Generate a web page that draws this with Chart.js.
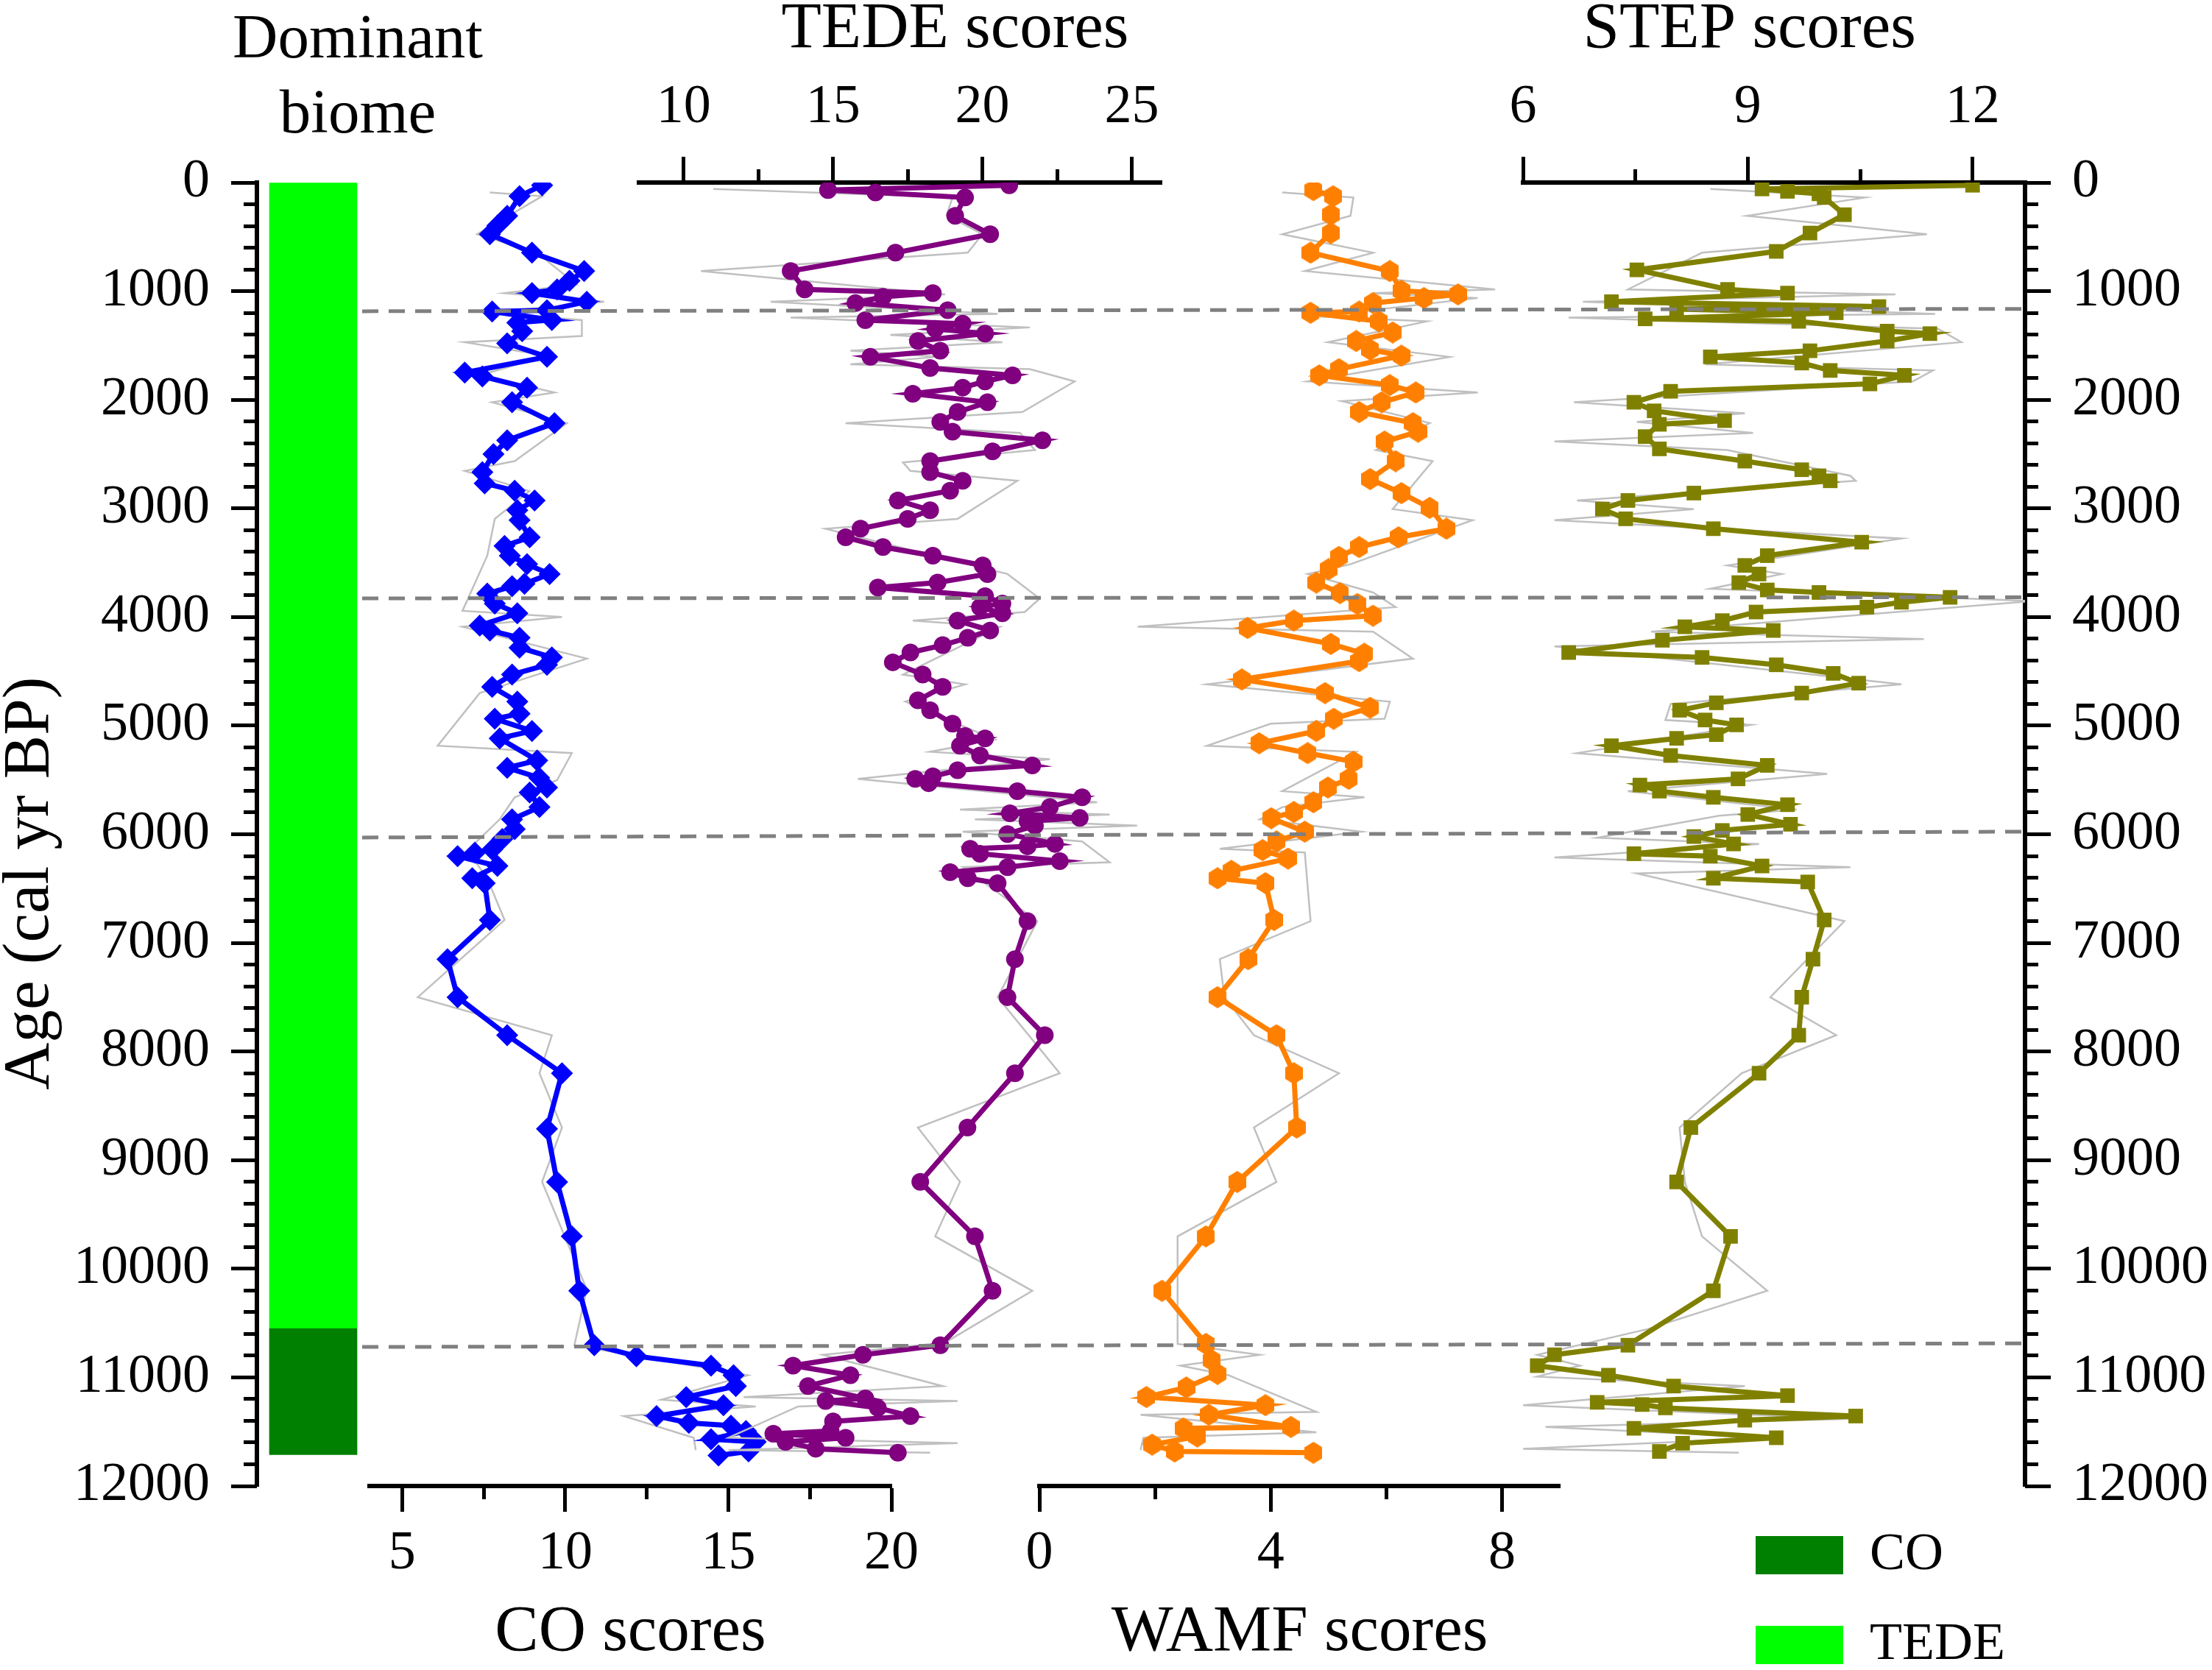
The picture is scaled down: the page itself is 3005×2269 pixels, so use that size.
<!DOCTYPE html>
<html>
<head>
<meta charset="utf-8">
<title>Biome scores</title>
<script src="https://cdn.jsdelivr.net/npm/chart.js@4.4.1/dist/chart.umd.min.js"></script>
<style>
  html, body { margin: 0; padding: 0; background: #fff; overflow: hidden; }
  #wrap { position: relative; width: 3005px; height: 2269px; }
  #wrap canvas { position: absolute; left: 0; top: 0; }
  #biomeTitle {
    position: absolute; left: 286px; top: -2px; width: 400px;
    font-family: 'Liberation Serif', 'Times New Roman', serif; font-size: 85px; line-height: 102px;
    text-align: center; color: #000;
  }
</style>
</head>
<body>
<div id="wrap">
  <canvas id="biome" width="3005" height="2269"></canvas>
  <canvas id="co" width="3005" height="2269"></canvas>
  <canvas id="tede" width="3005" height="2269"></canvas>
  <canvas id="wamf" width="3005" height="2269"></canvas>
  <canvas id="step" width="3005" height="2269"></canvas>
  <canvas id="zones" width="3005" height="2269"></canvas>
  <canvas id="legend" width="900" height="300" style="left:2335px; top:2027px;"></canvas>
  <div id="biomeTitle">Dominant<br>biome</div>
</div>
<script>
// ---- data ----
var ageRange = [0, 12000];
var ageTicks = [0, 1000, 2000, 3000, 4000, 5000, 6000, 7000, 8000, 9000, 10000, 11000, 12000];

var biomeNames = ['CO', 'TEDE'];
var biomeColors = ['#008000', '#00ff00'];
var biomeSpans = [[10550, 11712], [0, 10550]];

// zone boundaries (age at left end / right end)
var zoneAgeLeft = [1185, 3828, 6030, 10720];
var zoneAgeRight = [1163, 3818, 5976, 10687];

var coRange = [4, 20], coTicks = [5, 10, 15, 20], coMinor = [7.5, 12.5, 17.5];
var tedeRange = [8.5, 26], tedeTicks = [10, 15, 20, 25], tedeMinor = [12.5, 17.5, 22.5];
var wamfRange = [0, 9], wamfTicks = [0, 4, 8], wamfMinor = [2, 6];
var stepRange = [6, 12.7], stepTicks = [6, 9, 12], stepMinor = [7.5, 10.5];

var coAge = [25, 126, 307, 397, 476, 646, 815, 905, 984, 1018, 1097, 1176, 1188, 1265, 1290, 1368, 1481, 1605, 1750, 1785,
  1888, 2023, 2215, 2373, 2500, 2667, 2769, 2837, 2927, 3017, 3108, 3266, 3345, 3435, 3514, 3604, 3695, 3717, 3785, 3875,
  3966, 4079, 4124, 4191, 4282, 4372, 4440, 4530, 4643, 4779, 4891, 4937, 5049, 5117, 5320, 5388, 5480, 5570, 5615, 5750,
  5863, 5953, 6044, 6140, 6170, 6202, 6292, 6405, 6450, 6789, 7150, 7500, 7850, 8200, 8712, 9201, 9702, 10203, 10704, 10805,
  10892, 10980, 11080, 11181, 11256, 11356, 11419, 11444, 11494, 11569, 11594, 11682, 11719];
var coScore = [9.29, 8.6, 8.22, 7.92, 7.69, 8.98, 10.58, 10.13, 9.75, 8.98, 10.66, 9.44, 7.76, 9.59, 8.53, 8.68, 8.22, 9.44, 6.92, 7.46,
  8.83, 8.37, 9.67, 8.22, 7.8, 7.46, 7.53, 8.45, 9.06, 8.53, 8.6, 8.91, 8.14, 8.3, 8.83, 9.52, 8.75, 8.37, 7.61, 7.84,
  8.53, 7.38, 7.69, 8.6, 8.6, 9.59, 9.44, 8.37, 7.76, 8.53, 8.6, 7.84, 8.98, 7.99, 9.14, 8.22, 9.2, 9.44, 8.91, 9.21,
  8.37, 8.45, 8.07, 7.76, 7.23, 6.7, 7.92, 7.15, 7.53, 7.69, 6.39, 6.7, 8.22, 9.9, 9.44, 9.75, 10.2, 10.43, 10.89, 12.18,
  14.47, 15.16, 15.23, 13.71, 14.85, 12.8, 13.79, 15.08, 15.54, 14.47, 15.84, 15.62, 14.7];
var coRawAge = [92, 126, 476, 646, 939, 1018, 1097, 1199, 1267, 1413, 1470, 1594, 1775, 1933, 2023, 2215, 2565, 2655, 2840, 3096,
  3435, 3943, 3999, 4090, 4383, 4700, 5185, 5253, 5502, 5660, 5863, 6150, 6400, 6789, 7500, 7850, 8200, 8700, 9200, 10190,
  10704, 10980, 11206, 11268, 11356, 11556, 11670];
var coRaw = [7.69, 9.29, 7.3, 9.13, 10.35, 8.14, 11.19, 7.69, 10.51, 10.51, 6.92, 9.44, 7.38, 9.67, 7.76, 10.05, 8.45, 6.92, 8.9, 7.84,
  7.61, 6.85, 9.9, 6.85, 10.66, 7.38, 6.09, 10.2, 9.75, 8.45, 7.99, 7.0, 7.6, 8.14, 5.48, 9.59, 9.21, 9.9, 9.29, 10.66,
  10.28, 15.6, 12.95, 15.84, 11.8, 13.94, 14.0];

var tedeAge = [25, 70, 92, 138, 307, 476, 646, 815, 984, 1018, 1052, 1109, 1176, 1267, 1300, 1346, 1391, 1459, 1549, 1605,
  1707, 1775, 1831, 1888, 1944, 2023, 2113, 2204, 2294, 2373, 2475, 2565, 2667, 2746, 2837, 2927, 3017, 3096, 3187, 3266,
  3356, 3435, 3525, 3604, 3683, 3729, 3808, 3875, 3909, 3966, 4033, 4124, 4191, 4259, 4327, 4417, 4530, 4643, 4767, 4858,
  4982, 5095, 5117, 5185, 5275, 5366, 5411, 5467, 5490, 5530, 5603, 5660, 5750, 5807, 5850, 5880, 5920, 5998, 6089, 6111,
  6134, 6179, 6247, 6303, 6349, 6405, 6450, 6800, 7150, 7500, 7850, 8200, 8700, 9200, 9702, 10203, 10704, 10792, 10892, 10980,
  11080, 11193, 11218, 11281, 11356, 11406, 11494, 11519, 11556, 11594, 11657, 11694];
var tedeScore = [20.9, 14.83, 16.42, 19.42, 19.09, 20.26, 17.09, 13.58, 14.05, 18.34, 16.67, 15.75, 18.84, 16.08, 19.34, 18.42, 20.09, 17.84, 18.59, 16.25,
  18.25, 21.01, 20.09, 19.34, 17.67, 20.17, 19.17, 18.59, 19.0, 22.01, 20.34, 18.25, 18.25, 19.34, 18.92, 17.17, 18.25, 17.5, 15.92, 15.42,
  16.67, 18.34, 20.01, 20.17, 18.5, 16.5, 20.09, 20.67, 19.92, 20.67, 19.17, 20.26, 19.51, 18.67, 17.59, 17.0, 18.0, 18.67, 17.84, 18.25,
  19.0, 19.42, 20.09, 19.25, 19.92, 21.67, 19.17, 18.34, 17.75, 18.2, 21.17, 23.34, 22.26, 20.92, 23.26, 21.51, 21.76, 20.84, 22.43, 21.51,
  19.59, 19.92, 22.59, 20.84, 18.92, 19.51, 20.51, 21.51, 21.09, 20.84, 22.09, 21.09, 19.5, 17.92, 19.75, 20.34, 18.59, 16.0, 13.66, 15.58,
  14.16, 16.08, 14.75, 16.5, 17.59, 15.0, 14.92, 13.0, 15.42, 13.41, 14.42, 17.17];
var tedeRawAge = [59, 138, 300, 476, 646, 815, 1030, 1097, 1210, 1244, 1334, 1402, 1470, 1549, 1605, 1673, 1718, 1831, 2113, 2215,
  2305, 2463, 2576, 2655, 2746, 3096, 3187, 3604, 3830, 3954, 4033, 4090, 4530, 4620, 4779, 5128, 5241, 5309, 5490, 5705,
  5773, 5818, 5863, 5920, 5976, 6066, 6258, 6303, 6800, 7500, 8200, 8700, 9200, 9702, 10203, 10680, 10792, 11080, 11181, 11218,
  11268, 11556, 11606, 11669, 11694];
var tedeRaw = [10.99, 19.0, 18.8, 20.0, 19.51, 10.58, 18.75, 12.91, 20.51, 13.58, 21.59, 16.92, 20.67, 15.58, 18.5, 15.58, 21.59, 23.09, 21.34, 15.42,
  21.26, 21.76, 17.34, 17.59, 21.17, 19.17, 14.75, 20.84, 21.92, 21.42, 17.67, 20.59, 17.34, 19.42, 17.42, 20.42, 18.25, 22.26, 15.83, 23.84,
  19.25, 24.26, 19.75, 25.18, 19.34, 23.34, 24.26, 19.34, 21.84, 20.51, 22.59, 17.84, 19.25, 18.42, 21.67, 18.75, 14.66, 18.67, 12.0, 19.17,
  13.83, 11.5, 19.17, 11.5, 18.25];

var wamfAge = [70, 126, 296, 465, 646, 815, 996, 1030, 1063, 1109, 1188, 1199, 1278, 1380, 1459, 1538, 1594, 1718, 1775, 1865,
  1933, 2023, 2113, 2215, 2294, 2384, 2565, 2730, 2859, 2995, 3187, 3266, 3356, 3446, 3560, 3683, 3780, 3880, 3988, 4033,
  4101, 4248, 4338, 4406, 4575, 4700, 4835, 4937, 5049, 5162, 5253, 5332, 5490, 5570, 5705, 5795, 5852, 5976, 6066, 6145,
  6224, 6337, 6405, 6450, 6789, 7150, 7500, 7850, 8200, 8700, 9201, 9702, 10203, 10692, 10842, 10968, 11093, 11181, 11256, 11344,
  11456, 11469, 11544, 11619, 11682, 11694];
var wamfScore = [4.74, 5.08, 5.04, 5.04, 4.69, 6.06, 6.26, 7.24, 6.65, 5.77, 5.53, 4.69, 5.87, 6.11, 5.48, 5.72, 6.26, 5.18, 4.84, 6.06,
  6.51, 5.92, 5.53, 6.46, 6.55, 5.97, 6.16, 5.72, 6.26, 6.75, 7.04, 6.21, 5.53, 5.18, 5.0, 4.79, 5.2, 5.5, 5.77, 4.4,
  3.6, 5.04, 5.62, 5.53, 3.5, 4.94, 5.72, 5.09, 4.79, 3.8, 4.64, 5.43, 5.35, 4.99, 4.74, 4.4, 4.01, 4.59, 4.1, 3.86,
  4.3, 3.32, 3.08, 3.91, 4.06, 3.61, 3.08, 4.1, 4.4, 4.45, 3.42, 2.88, 2.12, 2.88, 2.98, 3.08, 2.54, 1.85, 3.91, 2.93,
  4.35, 2.49, 2.73, 1.95, 2.34, 4.74];
var wamfRawAge = [92, 138, 307, 476, 646, 815, 984, 1018, 1063, 1233, 1278, 1470, 1605, 1831, 1933, 2012, 2215, 2463, 2565, 3006,
  3108, 3514, 3604, 3774, 3909, 4090, 4135, 4383, 4620, 4779, 4937, 4982, 5185, 5241, 5603, 5660, 5750, 5863, 5976, 6134,
  6168, 6800, 7150, 7500, 7850, 8200, 8700, 9201, 9702, 10203, 10692, 10792, 10892, 10980, 11318, 11344, 11506, 11556, 11669];
var wamfRaw = [4.2, 5.43, 5.38, 4.2, 5.77, 4.59, 7.88, 5.77, 7.58, 4.79, 6.7, 4.99, 7.09, 4.64, 7.58, 5.23, 6.75, 5.82, 6.8, 6.11,
  7.49, 5.38, 4.64, 5.77, 6.16, 1.7, 5.77, 6.46, 2.9, 6.06, 5.97, 4.0, 2.9, 5.48, 4.2, 5.62, 4.2, 3.81, 5.57, 3.12,
  4.59, 4.69, 3.12, 3.2, 3.71, 5.18, 3.71, 4.1, 2.39, 2.39, 2.39, 3.81, 2.44, 3.27, 4.79, 1.75, 4.79, 1.8, 1.75];

var stepAge = [25, 59, 81, 104, 138, 296, 465, 634, 804, 984, 1018, 1097, 1142, 1165, 1199, 1255, 1278, 1368, 1391, 1459,
  1549, 1605, 1662, 1730, 1775, 1854, 1922, 2023, 2102, 2192, 2226, 2339, 2452, 2565, 2644, 2700, 2746, 2859, 2927, 3006,
  3096, 3187, 3311, 3435, 3525, 3604, 3683, 3751, 3774, 3819, 3864, 3909, 3954, 4033, 4090, 4124, 4214, 4327, 4372, 4440,
  4519, 4609, 4700, 4790, 4858, 4948, 4993, 5083, 5117, 5185, 5275, 5366, 5490, 5547, 5603, 5660, 5728, 5818, 5908, 5965,
  6021, 6089, 6179, 6202, 6292, 6405, 6439, 6789, 7150, 7500, 7850, 8200, 8700, 9201, 9702, 10203, 10704, 10792, 10892, 10980,
  11080, 11168, 11230, 11250, 11281, 11356, 11394, 11469, 11556, 11606, 11682];
var stepScore = [12.0, 9.19, 9.53, 9.95, 10.02, 10.29, 9.83, 9.38, 7.52, 8.73, 9.53, 7.18, 10.75, 8.05, 10.18, 7.63, 9.68, 10.86, 11.43, 10.86,
  9.83, 8.5, 9.72, 10.1, 11.09, 10.63, 7.97, 7.48, 7.75, 8.69, 7.82, 7.63, 7.82, 8.96, 9.72, 9.95, 10.1, 8.28, 7.4, 7.06,
  7.37, 8.54, 10.52, 9.26, 8.96, 9.15, 8.88, 9.26, 9.95, 11.7, 11.05, 10.59, 9.11, 8.66, 8.16, 9.34, 7.86, 6.61, 8.39, 9.38,
  10.14, 10.48, 9.72, 8.58, 8.09, 8.43, 8.85, 8.58, 8.05, 7.18, 7.97, 9.26, 8.87, 7.56, 7.82, 8.54, 9.53, 9.0, 9.57, 8.66,
  8.28, 8.81, 7.48, 8.5, 9.19, 8.54, 9.8, 10.02, 9.87, 9.72, 9.68, 9.15, 8.24, 8.05, 8.77, 8.54, 7.4, 6.42, 6.19, 7.14,
  8.01, 9.53, 6.99, 7.59, 7.9, 10.44, 8.96, 7.48, 9.38, 8.13, 7.82];
var stepRawAge = [59, 138, 307, 476, 646, 984, 1030, 1097, 1210, 1244, 1346, 1470, 1673, 1730, 1831, 2023, 2125, 2204, 2305, 2384,
  2463, 2700, 2746, 2927, 3006, 3108, 3277, 3525, 3604, 3740, 3853, 4135, 4203, 4270, 4620, 4801, 4948, 4993, 5253, 5445,
  5603, 5773, 5829, 6032, 6089, 6213, 6303, 6360, 6800, 7500, 7850, 8200, 8700, 9201, 9702, 10203, 10554, 10792, 10892, 10993,
  11080, 11256, 11381, 11456, 11556, 11657, 11694];
var stepRaw = [8.5, 10.56, 8.99, 11.39, 8.39, 7.4, 10.97, 6.8, 11.5, 6.61, 11.54, 11.85, 8.43, 11.47, 11.2, 6.68, 8.96, 7.52, 9.07, 6.42,
  8.73, 10.37, 10.44, 6.72, 8.28, 6.42, 11.05, 8.73, 9.45, 8.5, 12.8, 7.71, 11.35, 6.42, 11.05, 7.97, 7.9, 9.04, 6.72, 10.06,
  7.4, 9.65, 8.62, 6.99, 9.15, 6.42, 10.37, 7.52, 10.29, 9.3, 10.18, 8.92, 8.09, 8.16, 8.39, 9.26, 7.67, 6.19, 6.76, 6.19,
  8.96, 6.0, 10.36, 6.3, 9.3, 6.0, 8.88];

// ---- layout ----
var W = 3005, H = 2269;
var plotTop = 248, plotBottom = 2019;
var nbsp = '\u00a0';

Chart.defaults.font.family = "'Liberation Serif', 'Times New Roman', serif";
Chart.defaults.color = '#000';

function pairs(ages, values) {
  var out = [];
  for (var i = 0; i < Math.min(ages.length, values.length); i++) {
    out.push({ x: values[i], y: ages[i] });
  }
  return out;
}

function fixSize(size) {
  return function(scale) {
    if (scale.isHorizontal()) scale.height = size; else scale.width = size;
  };
}

function setTicks(values) {
  return function(scale) {
    scale.ticks = values.map(function(v) { return { value: v }; });
  };
}

function plain(v) { return String(v); }

function majorAxis(position, range, ticks, size, pad) {
  return {
    type: 'linear', position: position, weight: 1, bounds: 'data',
    min: range[0], max: range[1],
    afterBuildTicks: setTicks(ticks), afterFit: fixSize(size),
    grid: { drawOnChartArea: false, tickLength: 35, tickWidth: 5, tickColor: '#000' },
    border: { display: true, width: 6, color: '#000' },
    ticks: { font: { size: 74 }, color: '#000', padding: pad, callback: plain, autoSkip: false, maxRotation: 0 }
  };
}

function minorAxis(position, range, ticks) {
  var axis = {
    type: 'linear', position: position, weight: 0, bounds: 'data',
    min: range[0], max: range[1],
    afterFit: fixSize(0),
    grid: { drawOnChartArea: false, tickLength: 18, tickWidth: 5, tickColor: '#000' },
    border: { display: false },
    ticks: { display: false }
  };
  if (ticks) axis.afterBuildTicks = setTicks(ticks);
  return axis;
}

function axisTitle(text, align, padding) {
  return { display: true, text: text, align: align, color: '#000', padding: padding,
           font: { size: 89, lineHeight: 0.8 } };
}

function ageAxes(position) {
  var size = position === 'left' ? 349 : W - 2751;
  var major = majorAxis(position, ageRange, ageTicks, size, 29);
  major.reverse = true;
  var minor = minorAxis(position, ageRange, null);
  minor.reverse = true;
  minor.ticks.stepSize = 200;
  minor.ticks.maxTicksLimit = 100;
  return { major: major, minor: minor };
}

function baseOptions(padding) {
  return {
    responsive: false, animation: false, devicePixelRatio: 1, events: [],
    layout: { padding: padding },
    plugins: { legend: { display: false }, tooltip: { enabled: false } }
  };
}

function hexagon(w, h, color) {
  var c = document.createElement('canvas');
  c.width = w; c.height = h;
  var g = c.getContext('2d');
  g.fillStyle = color;
  g.beginPath();
  g.moveTo(w / 2, 0); g.lineTo(w, h / 4); g.lineTo(w, 3 * h / 4);
  g.lineTo(w / 2, h); g.lineTo(0, 3 * h / 4); g.lineTo(0, h / 4);
  g.closePath();
  g.fill();
  return c;
}

// one score profile: x axis at top or bottom, shared age axis
function profile(id, s) {
  var top = s.pos === 'top';
  var x = majorAxis(s.pos, s.range, s.ticks, top ? plotTop : H - plotBottom, top ? 22 : 13);
  x.title = axisTitle(s.title, s.titleAlign, top ? { top: 5 } : { bottom: 15 });
  var scales = {
    x: x,
    xMinor: minorAxis(s.pos, s.range, s.minor),
    y: { type: 'linear', display: false, min: ageRange[0], max: ageRange[1], reverse: true }
  };
  var padRight = W - s.edges[1];
  if (s.ageAxis) {
    var a = ageAxes('right');
    scales.y = a.major;
    scales.yMinor = a.minor;
    padRight = 0;
  }
  var opts = baseOptions({ left: s.edges[0], right: padRight, top: top ? 0 : plotTop, bottom: top ? H - plotBottom : 0 });
  opts.indexAxis = 'y';
  opts.scales = scales;
  return new Chart(document.getElementById(id), {
    type: 'line',
    data: {
      datasets: [{
        data: pairs(s.age, s.score), order: 0,
        borderColor: s.color, borderWidth: 7, tension: 0,
        pointStyle: s.point, pointRadius: s.radius, pointBorderWidth: 0, pointBackgroundColor: s.color
      }, {
        data: pairs(s.rawAge, s.raw), order: 1,
        borderColor: '#c0c0c0', borderWidth: 2.5, tension: 0, pointRadius: 0
      }]
    },
    options: opts
  });
}

// dominant biome column with the age axis
(function() {
  var a = ageAxes('left');
  a.major.title = axisTitle('Age (cal yr BP)' + nbsp.repeat(6), 'center', { top: 6 });
  var opts = baseOptions({ left: 0, right: W - 502, top: plotTop, bottom: H - plotBottom });
  opts.scales = {
    x: { type: 'category', display: false },
    y: a.major,
    yMinor: a.minor
  };
  new Chart(document.getElementById('biome'), {
    type: 'bar',
    data: {
      labels: [''],
      datasets: biomeNames.map(function(name, i) {
        return { label: name, data: [biomeSpans[i]], backgroundColor: biomeColors[i],
                 borderWidth: 0, barThickness: 119, grouped: false };
      })
    },
    options: opts
  });
})();

profile('co', {
  pos: 'bottom', edges: [502, 1211], range: coRange, ticks: coTicks, minor: coMinor,
  title: 'CO scores', titleAlign: 'center',
  age: coAge, score: coScore, rawAge: coRawAge, raw: coRaw,
  color: '#0000ff', point: 'rectRot', radius: 15
});

profile('tede', {
  pos: 'top', edges: [868, 1578], range: tedeRange, ticks: tedeTicks, minor: tedeMinor,
  title: 'TEDE scores' + nbsp.repeat(2), titleAlign: 'end',
  age: tedeAge, score: tedeScore, rawAge: tedeRawAge, raw: tedeRaw,
  color: '#800080', point: 'circle', radius: 12
});

profile('wamf', {
  pos: 'bottom', edges: [1412, 2119], range: wamfRange, ticks: wamfTicks, minor: wamfMinor,
  title: 'WAMF scores', titleAlign: 'center',
  age: wamfAge, score: wamfScore, rawAge: wamfRawAge, raw: wamfRaw,
  color: '#ff8000', point: hexagon(24, 30, '#ff8000'), radius: 12
});

profile('step', {
  pos: 'top', edges: [2069, 2751], range: stepRange, ticks: stepTicks, minor: stepMinor,
  title: 'STEP scores' + nbsp.repeat(3), titleAlign: 'center', ageAxis: true,
  age: stepAge, score: stepScore, rawAge: stepRawAge, raw: stepRaw,
  color: '#808000', point: 'rect', radius: 14
});

// dashed zone boundaries across all panels
(function() {
  var opts = baseOptions({ left: 492, right: W - 2751, top: plotTop, bottom: H - plotBottom });
  opts.scales = {
    x: { type: 'linear', display: false, min: 0, max: 1 },
    y: { type: 'linear', display: false, min: ageRange[0], max: ageRange[1], reverse: true }
  };
  new Chart(document.getElementById('zones'), {
    type: 'line',
    data: {
      datasets: zoneAgeLeft.map(function(age, i) {
        return { data: [{ x: 0, y: age }, { x: 1, y: zoneAgeRight[i] }],
                 borderColor: '#808080', borderWidth: 5, borderDash: [22, 14], pointRadius: 0 };
      })
    },
    options: opts
  });
})();

// biome legend
(function() {
  var opts = baseOptions(0);
  opts.plugins.legend = {
    display: true, position: 'left', align: 'start',
    labels: { boxWidth: 119, boxHeight: 52, padding: 50, color: '#000', font: { size: 72 } }
  };
  opts.scales = { x: { display: false }, y: { display: false } };
  new Chart(document.getElementById('legend'), {
    type: 'bar',
    data: {
      labels: [],
      datasets: biomeNames.map(function(name, i) {
        return { label: name, data: [], backgroundColor: biomeColors[i], borderWidth: 0 };
      })
    },
    options: opts
  });
})();
</script>
</body>
</html>
